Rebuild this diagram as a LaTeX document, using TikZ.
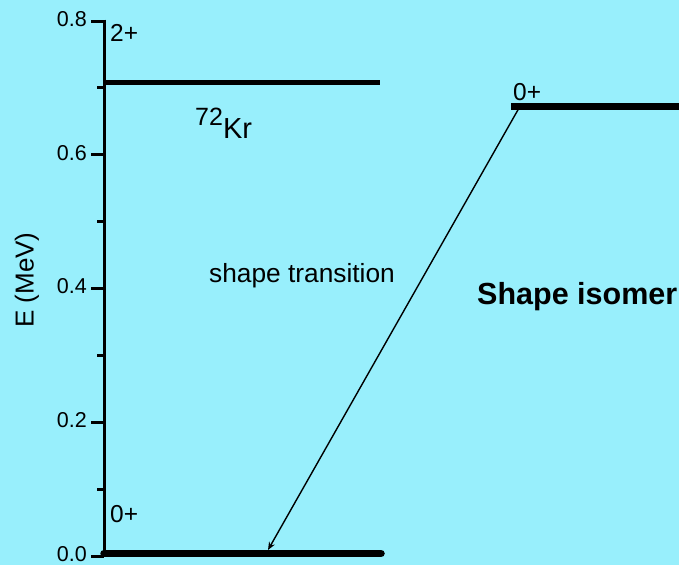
\documentclass[tikz,border=0pt]{standalone}
\usepackage{fontspec}
\setmainfont{Liberation Sans}
\usetikzlibrary{arrows.meta}
\definecolor{bgc}{HTML}{98EFFC}
\begin{document}
\begin{tikzpicture}[x=1pt,y=-1pt,
  ticklbl/.style={inner sep=0pt, anchor=east, font=\fontsize{21.5}{24}\selectfont},
  spinlbl/.style={inner sep=0pt, anchor=base west, font=\fontsize{24.5}{28}\selectfont},
  axisline/.style={line width=3pt},
  level/.style={line width=#1},
  transarrow/.style={line width=1.4pt, -{Stealth[length=8pt,width=6.5pt]}}]
\fill[bgc] (0,0) rectangle (679,565);
\useasboundingbox (0,0) rectangle (679,565);
% axis
\coordinate (axtop) at (104,19.5);
\coordinate (axbot) at (104,556);
\draw[axisline] (axtop) -- (axbot);
\foreach \yy/\tl in {21/0.8,154.75/0.6,288.5/0.4,422.25/0.2,556/0.0}{
  \draw[axisline] (91,\yy) -- (104,\yy);
  \node[ticklbl] (t\tl) at (87,\yy-2) {\tl};
}
\foreach \yy in {87.9,221.6,355.4,489.1}{
  \draw[axisline] (97,\yy) -- (104,\yy);
}
\node[inner sep=0pt, rotate=90, font=\fontsize{26}{28}\selectfont] (ylab) at (27,280) {E (MeV)};
% levels
\coordinate (k2a) at (104,82);
\coordinate (k2b) at (380,82);
\draw[level=5pt] (k2a) -- (k2b);
\coordinate (k0a) at (104,553.5);
\coordinate (k0b) at (381,553.5);
\draw[level=7.5pt, line cap=round] (k0a) -- (k0b);
\coordinate (isoa) at (511,106.5);
\coordinate (isob) at (679,106.5);
\draw[level=6.5pt] (isoa) -- (isob);
% labels
\node[spinlbl] (s2) at (110,41) {2+};
\node[spinlbl] (s0) at (110,522) {0+};
\node[spinlbl] (si) at (513,100) {0+};
\node[inner sep=0pt, anchor=base west] (kr) at (195,138) {\raisebox{13pt}{\fontsize{25}{28}\selectfont 72}\fontsize{29}{30}\selectfont Kr};
\node[inner sep=0pt, anchor=base west, font=\fontsize{26.3}{30}\selectfont] (st) at (209,282) {shape transition};
\node[inner sep=0pt, anchor=base west, font=\fontsize{30.5}{34}\selectfont\bfseries] (sis) at (477,304) {Shape isomer};
% transition
\coordinate (from) at (519,108);
\coordinate (to) at (268,550);
\draw[transarrow] (from) -- (to);
\end{tikzpicture}
\end{document}
